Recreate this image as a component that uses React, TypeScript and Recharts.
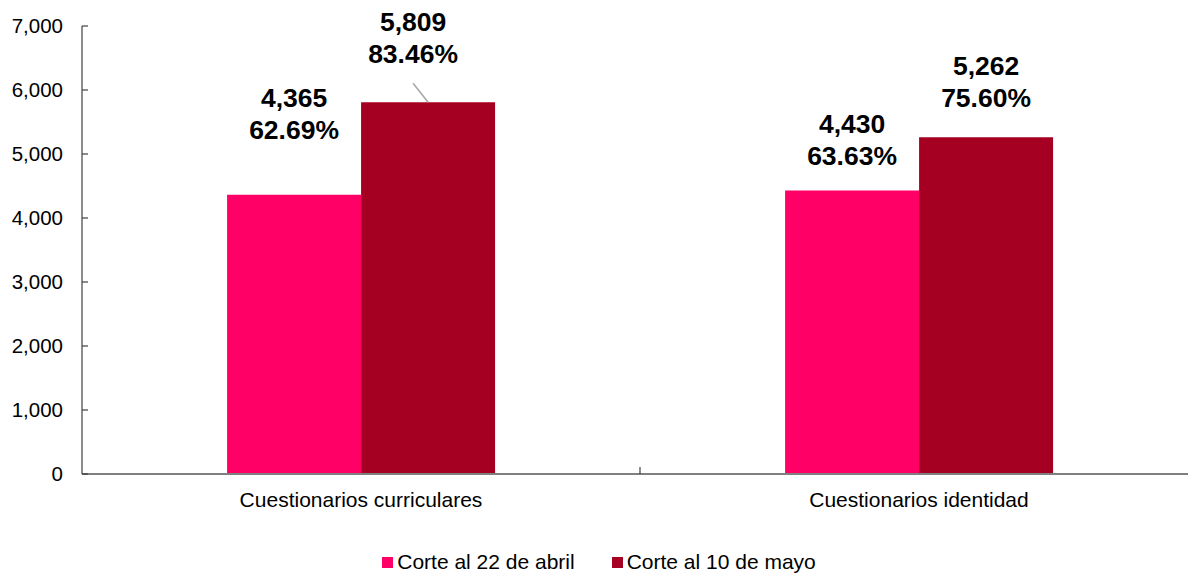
import React from 'react';
import { BarChart, Bar, XAxis, YAxis, Legend, LabelList } from 'recharts';

// categorías y series
const categories = ['Cuestionarios curriculares', 'Cuestionarios identidad'];
const corteAbril = [4365, 4430];
const corteMayo = [5809, 5262];
const pctAbril = ['62.69%', '63.63%'];
const pctMayo = ['83.46%', '75.60%'];
const yTicks = [0, 1000, 2000, 3000, 4000, 5000, 6000, 7000];

const serieAbril = 'Corte al 22 de abril';
const serieMayo = 'Corte al 10 de mayo';

// ajustes de las etiquetas (distancia sobre la barra, desplazamiento horizontal)
const gapAbril = [56, 25];
const gapMayo = [39, 30];
const dxMayo = [-15, 0];

const data = categories.map((name, i) => ({
  name,
  abril: corteAbril[i],
  mayo: corteMayo[i],
}));

const fmt = (v: number) => v.toLocaleString('en-US');
const FONT = '"Liberation Sans", Arial, sans-serif';

const makeLabel = (pcts: string[], gaps: number[], dxs: number[] | null, leader: boolean) => (props: any) => {
  const { x, y, width, value, index } = props;
  const bx = Number(x) + Number(width) / 2;
  const cx = bx + (dxs ? dxs[index] : 0);
  const base = Number(y) - gaps[index];
  return (
    <g>
      {leader && dxs && dxs[index] !== 0 && (
        <line x1={cx} y1={base + 20} x2={bx} y2={Number(y)} stroke="#a6a6a6" strokeWidth={1.5} />
      )}
      <text x={cx} y={base - 32} textAnchor="middle" fontFamily={FONT} fontWeight="bold" fontSize={26.5} fill="#000">
        {fmt(Number(value))}
      </text>
      <text x={cx} y={base} textAnchor="middle" fontFamily={FONT} fontWeight="bold" fontSize={26.5} fill="#000">
        {pcts[index]}
      </text>
    </g>
  );
};

const XTick = (props: any) => {
  const { x, y, payload, index } = props;
  const half = payload && payload.offset ? payload.offset : 0;
  return (
    <g>
      {index < categories.length - 1 && half > 0 && (
        <line x1={x + half} y1={y - 7} x2={x + half} y2={y} stroke="#404040" strokeWidth={1.2} />
      )}
      <text x={x} y={y + 33} textAnchor="middle" fontFamily={FONT} fontSize={21} fill="#000">
        {payload.value}
      </text>
    </g>
  );
};

const YTick = (props: any) => {
  const { x, y, payload } = props;
  return (
    <g>
      <line x1={x} y1={y} x2={x + 6} y2={y} stroke="#404040" strokeWidth={1.2} />
      <text x={x - 19} y={y + 7} textAnchor="end" fontFamily={FONT} fontSize={20.5} fill="#000">
        {fmt(payload.value)}
      </text>
    </g>
  );
};

const LegendBox = () => (
  <div
    style={{
      height: 30,
      display: 'flex',
      justifyContent: 'center',
      alignItems: 'flex-end',
      fontFamily: FONT,
      fontSize: 21,
      color: '#000',
      gap: 37,
    }}
  >
    {[
      { name: serieAbril, color: '#FF0066' },
      { name: serieMayo, color: '#A50021' },
    ].map((it) => (
      <div key={it.name} style={{ display: 'flex', alignItems: 'center', lineHeight: '22px' }}>
        <span style={{ width: 11, height: 11, background: it.color, display: 'inline-block', marginRight: 4 }} />
        <span>{it.name}</span>
      </div>
    ))}
  </div>
);

const App: React.FC = () => {
  return (
    <div style={{ position: 'absolute', left: 0, top: 0, width: 1188, height: 573, overflow: 'hidden', background: '#fff' }}>
      <BarChart
        width={1200}
        height={573}
        data={data}
        margin={{ top: 26, right: 2, left: 0, bottom: 0 }}
        barCategoryGap="26%"
        barGap={0}
      >
        <XAxis
          dataKey="name"
          height={69}
          tickLine={false}
          tickSize={0}
          tickMargin={0}
          axisLine={{ stroke: '#7f7f7f', strokeWidth: 2 }}
          tick={<XTick />}
          interval={0}
        />
        <YAxis
          width={82}
          domain={[0, 7000]}
          ticks={yTicks}
          tickLine={false}
          tickSize={0}
          tickMargin={0}
          axisLine={{ stroke: '#404040', strokeWidth: 1.2 }}
          tick={<YTick />}
        />
        <Legend verticalAlign="bottom" content={<LegendBox />} />
        <Bar dataKey="abril" name={serieAbril} fill="#FF0066" isAnimationActive={false}>
          <LabelList dataKey="abril" content={makeLabel(pctAbril, gapAbril, null, false)} />
        </Bar>
        <Bar dataKey="mayo" name={serieMayo} fill="#A50021" isAnimationActive={false}>
          <LabelList dataKey="mayo" content={makeLabel(pctMayo, gapMayo, dxMayo, true)} />
        </Bar>
      </BarChart>
    </div>
  );
};

export default App;
